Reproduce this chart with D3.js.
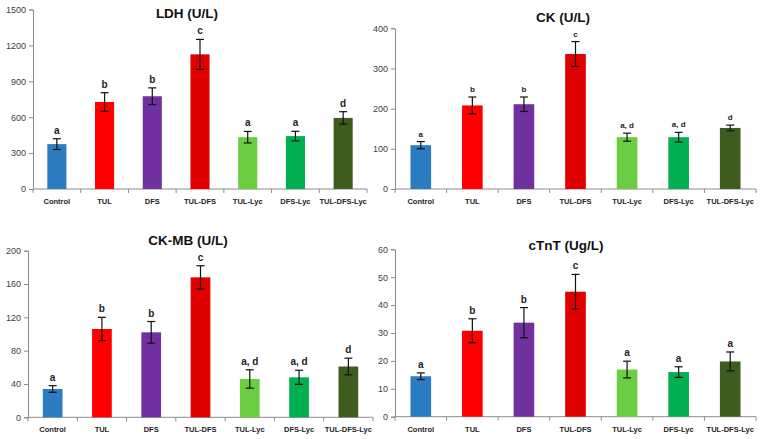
<!DOCTYPE html>
<html>
<head>
<meta charset="utf-8">
<script src="https://cdn.jsdelivr.net/npm/d3@7"></script>
<style>
  body { margin: 0; background: #fff; }
  svg { display: block; font-family: "Liberation Sans", Arial, sans-serif; }
</style>
</head>
<body>
<div class="chart"></div>
<script>
// groups and bar colours
const groups = ["Control", "TUL", "DFS", "TUL-DFS", "TUL-Lyc", "DFS-Lyc", "TUL-DFS-Lyc"];
const barColors = ["#2b7cc1", "#ff0000", "#7030a0", "#e00000", "#6acd42", "#00b050", "#3f5c1f"];

// LDH (U/L)
const ldhMean = [375, 727, 775, 1125, 433, 442, 594];
const ldhErr = [45, 78, 70, 125, 48, 40, 52];
const ldhLetters = ["a", "b", "b", "c", "a", "a", "d"];
const ldhTicks = [0, 300, 600, 900, 1200, 1500];

// CK (U/L)
const ckMean = [109, 208, 211, 336, 129, 129, 152];
const ckErr = [9, 21, 18, 31, 10, 12, 7];
const ckLetters = ["a", "b", "b", "c", "a, d", "a, d", "d"];
const ckTicks = [0, 100, 200, 300, 400];

// CK-MB (U/L)
const ckmbMean = [34, 106, 102, 168, 46, 48, 61];
const ckmbErr = [4, 14, 13, 14, 11, 8.5, 10];
const ckmbLetters = ["a", "b", "b", "c", "a, d", "a, d", "d"];
const ckmbTicks = [0, 40, 80, 120, 160, 200];

// cTnT (Ug/L)
const ctntMean = [14.5, 30.8, 33.7, 44.8, 16.9, 16.0, 19.8];
const ctntErr = [1.2, 4.3, 5.4, 6.2, 3.0, 1.9, 3.4];
const ctntLetters = ["a", "b", "b", "c", "a", "a", "a"];
const ctntTicks = [0, 10, 20, 30, 40, 50, 60];

const w = 764;
const h = 439;

const svg = d3.select(".chart")
    .append("svg")
    .attr("width", w)
    .attr("height", h);

// panel placement
const panels = [
    { title: "LDH (U/L)", mean: ldhMean, err: ldhErr, letters: ldhLetters, ticks: ldhTicks,
      left: 33, right: 367, top: 9.5, bottom: 189, titleX: 187, titleY: 18, letterSize: 10 },
    { title: "CK (U/L)", mean: ckMean, err: ckErr, letters: ckLetters, ticks: ckTicks,
      left: 395, right: 756, top: 28.3, bottom: 189, titleX: 563, titleY: 22, letterSize: 8 },
    { title: "CK-MB (U/L)", mean: ckmbMean, err: ckmbErr, letters: ckmbLetters, ticks: ckmbTicks,
      left: 28, right: 373, top: 250.7, bottom: 417.3, titleX: 188, titleY: 245, letterSize: 10 },
    { title: "cTnT (Ug/L)", mean: ctntMean, err: ctntErr, letters: ctntLetters, ticks: ctntTicks,
      left: 395, right: 756, top: 249.3, bottom: 416.7, titleX: 566, titleY: 250, letterSize: 10 }
];

panels.forEach(p => {
    const g = svg.append("g");

    const xScale = d3.scaleBand()
        .domain(groups)
        .range([p.left, p.right])
        .paddingInner(0.6)
        .paddingOuter(0.3);

    const yScale = d3.scaleLinear()
        .domain([0, d3.max(p.ticks)])
        .range([p.bottom, p.top]);

    // y axis
    const yAxis = d3.axisLeft(yScale)
        .tickValues(p.ticks)
        .tickFormat(d3.format("d"))
        .tickSize(4)
        .tickPadding(3);

    const yAxisGroup = g.append("g")
        .attr("transform", `translate(${p.left},0)`)
        .call(yAxis);
    yAxisGroup.select(".domain").attr("stroke", "#8c8c8c");
    yAxisGroup.selectAll(".tick line").attr("stroke", "#8c8c8c");
    yAxisGroup.selectAll("text")
        .attr("font-size", 9)
        .attr("fill", "#404040");

    // x axis line + ticks between categories (excel style)
    g.append("line")
        .attr("x1", p.left).attr("x2", p.right)
        .attr("y1", p.bottom).attr("y2", p.bottom)
        .attr("stroke", "#8c8c8c");

    const step = xScale.step();
    const bounds = d3.range(groups.length + 1).map(i => p.left + i * step);
    g.selectAll(".xtick")
        .data(bounds)
        .enter()
        .append("line")
        .attr("x1", d => d).attr("x2", d => d)
        .attr("y1", p.bottom).attr("y2", p.bottom + 4)
        .attr("stroke", "#8c8c8c");

    g.selectAll(".xlabel")
        .data(groups)
        .enter()
        .append("text")
        .attr("x", d => xScale(d) + xScale.bandwidth() / 2)
        .attr("y", p.bottom + 15)
        .attr("text-anchor", "middle")
        .attr("font-size", 7.5)
        .attr("font-weight", "bold")
        .attr("fill", "#222")
        .text(d => d);

    // bars
    g.selectAll(".bar")
        .data(p.mean)
        .enter()
        .append("rect")
        .attr("x", (d, i) => xScale(groups[i]))
        .attr("y", d => yScale(d))
        .attr("width", xScale.bandwidth())
        .attr("height", d => p.bottom - yScale(d))
        .attr("fill", (d, i) => barColors[i]);

    // error bars
    const eb = g.selectAll(".err")
        .data(p.mean)
        .enter()
        .append("g")
        .attr("stroke", "#111")
        .attr("stroke-width", 1.2);

    const cx = (i) => xScale(groups[i]) + xScale.bandwidth() / 2;

    eb.append("line")
        .attr("x1", (d, i) => cx(i)).attr("x2", (d, i) => cx(i))
        .attr("y1", (d, i) => yScale(d + p.err[i]))
        .attr("y2", (d, i) => yScale(d - p.err[i]));
    eb.append("line")
        .attr("x1", (d, i) => cx(i) - 4).attr("x2", (d, i) => cx(i) + 4)
        .attr("y1", (d, i) => yScale(d + p.err[i]))
        .attr("y2", (d, i) => yScale(d + p.err[i]));
    eb.append("line")
        .attr("x1", (d, i) => cx(i) - 4).attr("x2", (d, i) => cx(i) + 4)
        .attr("y1", (d, i) => yScale(d - p.err[i]))
        .attr("y2", (d, i) => yScale(d - p.err[i]));

    // significance letters
    g.selectAll(".letter")
        .data(p.letters)
        .enter()
        .append("text")
        .attr("x", (d, i) => cx(i))
        .attr("y", (d, i) => yScale(p.mean[i] + p.err[i]) - 5)
        .attr("text-anchor", "middle")
        .attr("font-size", p.letterSize)
        .attr("font-weight", "bold")
        .attr("fill", "#222")
        .text(d => d);

    // title
    g.append("text")
        .attr("x", p.titleX)
        .attr("y", p.titleY)
        .attr("text-anchor", "middle")
        .attr("font-size", 13.5)
        .attr("font-weight", "bold")
        .attr("fill", "#111")
        .text(p.title);
});
</script>
</body>
</html>
